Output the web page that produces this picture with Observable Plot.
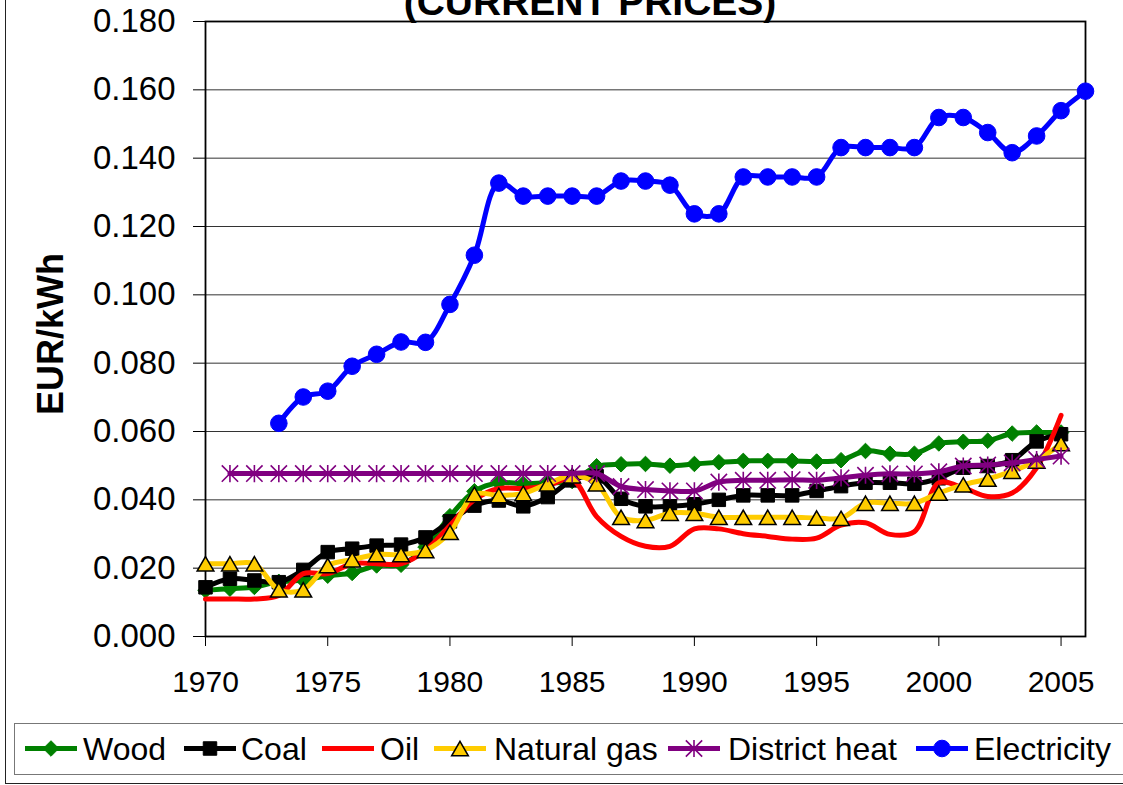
<!DOCTYPE html>
<html><head><meta charset="utf-8">
<script src="https://cdn.jsdelivr.net/npm/d3@7"></script>
<script src="https://cdn.jsdelivr.net/npm/@observablehq/plot@0.6"></script>
<style>
body{margin:0;background:#fff;font-family:"Liberation Sans",Arial,sans-serif;}
#wrap{position:relative;width:1123px;height:785px;overflow:hidden;background:#fff;}
#outer{position:absolute;left:5px;top:-10px;width:1200px;height:794px;border:1.5px solid #222;box-sizing:border-box;}
#legendbox{position:absolute;left:14px;top:723px;width:1200px;height:52px;border:1.5px solid #777;box-sizing:border-box;background:#fff;}
#chart{position:absolute;left:0;top:0;}
#overlay{position:absolute;left:0;top:0;pointer-events:none;}
</style>
</head><body>
<div id="wrap">
  <div id="outer"></div>
  <div id="legendbox"></div>
  <div id="chart"></div>
  <svg id="overlay" width="1123" height="785"></svg>
</div>
<script>
// ---- data ----
const years = [1970,1971,1972,1973,1974,1975,1976,1977,1978,1979,1980,1981,1982,1983,1984,1985,1986,1987,1988,1989,1990,1991,1992,1993,1994,1995,1996,1997,1998,1999,2000,2001,2002,2003,2004,2005,2006];
const seriesNames = ["Wood","Coal","Oil","Natural gas","District heat","Electricity"];
// 1970–2005
const wood = [0.0135,0.0140,0.0145,0.0160,0.0165,0.0178,0.0186,0.0208,0.0210,0.0262,0.0352,0.0425,0.0450,0.0447,0.0450,0.0455,0.0498,0.0504,0.0505,0.0500,0.0505,0.0510,0.0514,0.0514,0.0514,0.0512,0.0516,0.0543,0.0535,0.0535,0.0565,0.0570,0.0573,0.0594,0.0597,0.0597];
const coal = [0.0144,0.0169,0.0164,0.0159,0.0195,0.0247,0.0257,0.0266,0.0269,0.0290,0.0337,0.0383,0.0398,0.0381,0.0408,0.0457,0.0469,0.0403,0.0381,0.0381,0.0387,0.0400,0.0413,0.0413,0.0413,0.0426,0.0440,0.0450,0.0450,0.0447,0.0463,0.0494,0.0499,0.0516,0.0571,0.0592];
const oil = [0.0110,0.0110,0.0110,0.0120,0.0184,0.0184,0.0213,0.0213,0.0213,0.0252,0.0325,0.0400,0.0433,0.0433,0.0442,0.0460,0.0351,0.0293,0.0264,0.0264,0.0315,0.0315,0.0301,0.0293,0.0285,0.0288,0.0326,0.0333,0.0299,0.0307,0.0450,0.0435,0.0410,0.0420,0.0494,0.0647];
const naturalGas = [0.0213,0.0213,0.0213,0.0137,0.0137,0.0208,0.0225,0.0240,0.0240,0.0252,0.0305,0.0416,0.0413,0.0419,0.0447,0.0471,0.0447,0.0349,0.0340,0.0361,0.0361,0.0349,0.0349,0.0349,0.0349,0.0347,0.0346,0.0390,0.0390,0.0390,0.0420,0.0444,0.0461,0.0484,0.0514,0.0565];
// 1971–2005
const districtHeat = [0.0477,0.0477,0.0477,0.0477,0.0477,0.0477,0.0477,0.0477,0.0477,0.0477,0.0477,0.0477,0.0477,0.0477,0.0477,0.0477,0.0439,0.0430,0.0426,0.0426,0.0452,0.0457,0.0457,0.0459,0.0457,0.0464,0.0472,0.0476,0.0476,0.0482,0.0499,0.0502,0.0508,0.0518,0.0528];
// 1973–2006
const electricity = [0.0624,0.0701,0.0718,0.0791,0.0826,0.0862,0.0861,0.0972,0.1116,0.1327,0.1289,0.1289,0.1289,0.1289,0.1333,0.1333,0.1321,0.1237,0.1237,0.1345,0.1345,0.1345,0.1345,0.1431,0.1431,0.1431,0.1431,0.1519,0.1519,0.1475,0.1416,0.1465,0.1539,0.1596];
const yTicks = [0,0.02,0.04,0.06,0.08,0.10,0.12,0.14,0.16,0.18];
const xTicks = [1970,1975,1980,1985,1990,1995,2000,2005];

const seriesValues = [wood, coal, oil, naturalGas, districtHeat, electricity];
const seriesStart = [1970,1970,1970,1970,1971,1973];

// ---- styles ----
// Excel-style asterisk: vertical bar plus an X
const excelAsterisk = {
  draw(context, size) {
    const h = Math.sqrt(size / Math.PI);
    const d = h * 0.95;
    context.moveTo(0, -h); context.lineTo(0, h);
    context.moveTo(-d, -d); context.lineTo(d, d);
    context.moveTo(-d, d); context.lineTo(d, -d);
  }
};
const styles = [
  {color:"#008000", symbol:"diamond2", r:7, fill:"#008000", stroke:"#008000", sw:1},
  {color:"#000000", symbol:"square", r:7.6, fill:"#000000", stroke:"#000000", sw:1},
  {color:"#ff0000", symbol:null},
  {color:"#ffcc00", symbol:"triangle", r:6.2, fill:"#ffcc00", stroke:"#000000", sw:1.5, dy:2.5},
  {color:"#800080", symbol:excelAsterisk, r:8.6, fill:"none", stroke:"#800080", sw:1.6},
  {color:"#0000ff", symbol:"circle", r:8.3, fill:"#0000ff", stroke:"#0000ff", sw:1}
];
const d3Symbols = {diamond2:d3.symbolDiamond2, square:d3.symbolSquare, triangle:d3.symbolTriangle, circle:d3.symbolCircle};

const rows = seriesNames.map((name,i)=>{
  const start = years.indexOf(seriesStart[i]);
  return seriesValues[i].map((v,j)=>({series:name, year:years[start+j], value:v}));
});

const FONT = "Liberation Sans, Arial, sans-serif";
const marks = [
  Plot.gridY(yTicks, {stroke:"#333", strokeOpacity:1, strokeWidth:1}),
  Plot.frame({stroke:"#000", strokeWidth:1.8}),
  Plot.axisY(yTicks, {tickFormat:d3.format(".3f"), tickSize:12, tickPadding:18, fontSize:33, label:null}),
  Plot.axisX(xTicks, {tickFormat:d=>String(d), tickSize:10, tickPadding:24, fontSize:30, label:null})
];
rows.forEach((data,i)=>{
  const s = styles[i];
  marks.push(Plot.line(data, {x:"year", y:"value", stroke:s.color, strokeWidth:5, curve:"catmull-rom"}));
  if (s.symbol) marks.push(Plot.dot(data, {x:"year", y:"value", symbol:s.symbol, r:s.r, fill:s.fill, stroke:s.stroke, strokeWidth:s.sw, dy:s.dy||0}));
});

const chart = Plot.plot({
  width:1123, height:700,
  marginLeft:205, marginRight:38, marginTop:21, marginBottom:64,
  x:{domain:[1970,2006]},
  y:{domain:[0,0.18]},
  style:{fontFamily:FONT, background:"transparent", overflow:"visible", color:"#000"},
  marks
});
document.getElementById("chart").appendChild(chart);

// ---- title, axis title, legend ----
const ov = d3.select("#overlay");
ov.append("text").attr("x",590).attr("y",15).attr("text-anchor","middle")
  .attr("font-family",FONT).attr("font-weight","bold").attr("font-size",39).text("(CURRENT PRICES)");
ov.append("text").attr("transform","translate(63,334) rotate(-90)").attr("text-anchor","middle")
  .attr("font-family",FONT).attr("font-weight","bold").attr("font-size",36).text("EUR/kWh");

const legendLineX = [25,184,322,434,668,916];
const legendTextX = [83,241,380,494,728,974];
const ly = 748.5;
seriesNames.forEach((name,i)=>{
  const s = styles[i];
  const g = ov.append("g");
  g.append("line").attr("x1",legendLineX[i]).attr("x2",legendLineX[i]+52).attr("y1",ly).attr("y2",ly)
    .attr("stroke",s.color).attr("stroke-width",5);
  if (s.symbol) {
    const type = typeof s.symbol === "string" ? d3Symbols[s.symbol] : s.symbol;
    g.append("path").attr("transform",`translate(${legendLineX[i]+26},${ly+(s.dy||0)})`)
      .attr("d", d3.symbol(type, Math.PI*s.r*s.r)())
      .attr("fill",s.fill).attr("stroke",s.stroke).attr("stroke-width",s.sw);
  }
  g.append("text").attr("x",legendTextX[i]).attr("y",760).attr("font-family",FONT).attr("font-size",32).text(name);
});
</script>
</body></html>
